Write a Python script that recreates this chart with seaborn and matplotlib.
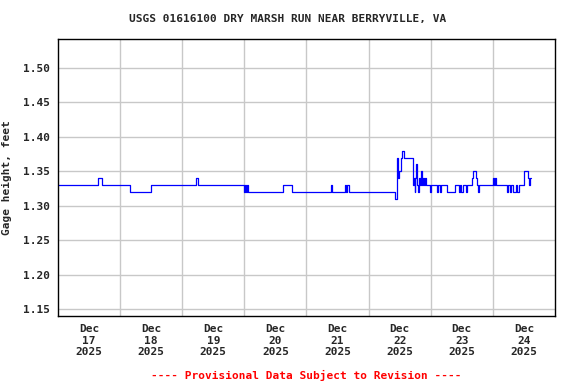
import pandas as pd
import matplotlib
matplotlib.use("Agg")
import matplotlib.pyplot as plt
import matplotlib.dates as mdates
import seaborn as sns

# gage height change points: hours after 2025-12-17 00:00, value (ft)
hours = [0.0, 15.5, 17.0, 27.8, 36.0, 53.3, 54.1, 71.9, 72.3, 72.7, 73.0, 73.4,
         87.0, 90.4, 105.5, 105.9, 110.9, 111.3, 111.7, 112.5, 130.2, 130.8,
         131.0, 131.2, 131.8, 132.6, 133.0, 133.7, 137.2, 137.6, 137.8, 138.0,
         138.4, 138.8, 139.1, 139.5, 139.9, 140.3, 140.7, 141.1, 141.5, 141.8,
         142.2, 143.8, 144.2, 146.5, 146.9, 147.6, 148.0, 150.3, 153.4, 155.0,
         155.4, 155.8, 156.5, 157.7, 158.1, 160.0, 160.4, 161.6, 162.0, 162.4,
         162.7, 168.1, 168.5, 168.9, 169.3, 173.5, 173.9, 174.7, 175.1, 175.9,
         177.1, 177.5, 178.2, 180.1, 181.7, 182.0, 182.4, 182.8]
gage = [1.33, 1.34, 1.33, 1.32, 1.33, 1.34, 1.33, 1.32, 1.33, 1.32, 1.33, 1.32,
        1.33, 1.32, 1.33, 1.32, 1.33, 1.32, 1.33, 1.32, 1.31, 1.34,
        1.37, 1.34, 1.35, 1.37, 1.38, 1.37, 1.33, 1.34, 1.32, 1.34,
        1.36, 1.33, 1.32, 1.34, 1.33, 1.35, 1.33, 1.34, 1.33, 1.34,
        1.33, 1.32, 1.33, 1.32, 1.33, 1.32, 1.33, 1.32, 1.33, 1.32,
        1.33, 1.32, 1.33, 1.32, 1.33, 1.34, 1.35, 1.34, 1.33, 1.32,
        1.33, 1.34, 1.33, 1.34, 1.33, 1.32, 1.33, 1.32, 1.33, 1.32,
        1.33, 1.32, 1.33, 1.35, 1.34, 1.33, 1.34, 1.34]

start = pd.Timestamp("2025-12-17")
df = pd.DataFrame({"time": start + pd.to_timedelta(hours, unit="h"), "gage": gage})

sns.set_style("white")
plt.rcParams["font.family"] = ["DejaVu Sans Mono"]
plt.rcParams["font.weight"] = "bold"

fig, ax = plt.subplots(figsize=(5.76, 3.84), dpi=100)
fig.subplots_adjust(left=0.1007, right=0.9635, top=0.8984, bottom=0.177)

sns.lineplot(data=df, x="time", y="gage", estimator=None, color="#0000ff",
             linewidth=0.9, drawstyle="steps-post", ax=ax)

ax.set_xlim(start, start + pd.Timedelta(days=8))
ax.set_ylim(1.14, 1.542)
ax.set_yticks([1.15, 1.20, 1.25, 1.30, 1.35, 1.40, 1.45, 1.50])
ax.set_yticklabels([f"{v:.2f}" for v in ax.get_yticks()], fontsize=8, fontweight="bold")

noon = [start + pd.Timedelta(hours=12 + 24 * i) for i in range(8)]
midnight = [start + pd.Timedelta(days=i) for i in range(1, 8)]
ax.set_xticks(noon)
ax.set_xticklabels([f"Dec\n{d.day}\n{d.year}" for d in noon], fontsize=8,
                   fontweight="bold", linespacing=1.15)
ax.set_xticks(midnight, minor=True)
ax.tick_params(axis="both", which="both", length=0, pad=6)

ax.grid(False)
ax.grid(True, axis="x", which="minor", color="#c8c8c8", linewidth=1)
ax.grid(True, axis="y", which="major", color="#c8c8c8", linewidth=1)
for s in ax.spines.values():
    s.set_color("black")
    s.set_linewidth(1)

ax.set_xlabel("")
ax.set_ylabel("Gage height, feet", fontsize=8, fontweight="bold", labelpad=8)
fig.text(0.5, 0.95, "USGS 01616100 DRY MARSH RUN NEAR BERRYVILLE, VA",
         ha="center", va="center", fontsize=8, fontweight="bold")
fig.text(0.532, 0.022, "---- Provisional Data Subject to Revision ----",
         ha="center", va="center", fontsize=8, fontweight="bold", color="#ff0000")

fig.savefig("out.png", dpi=100)
